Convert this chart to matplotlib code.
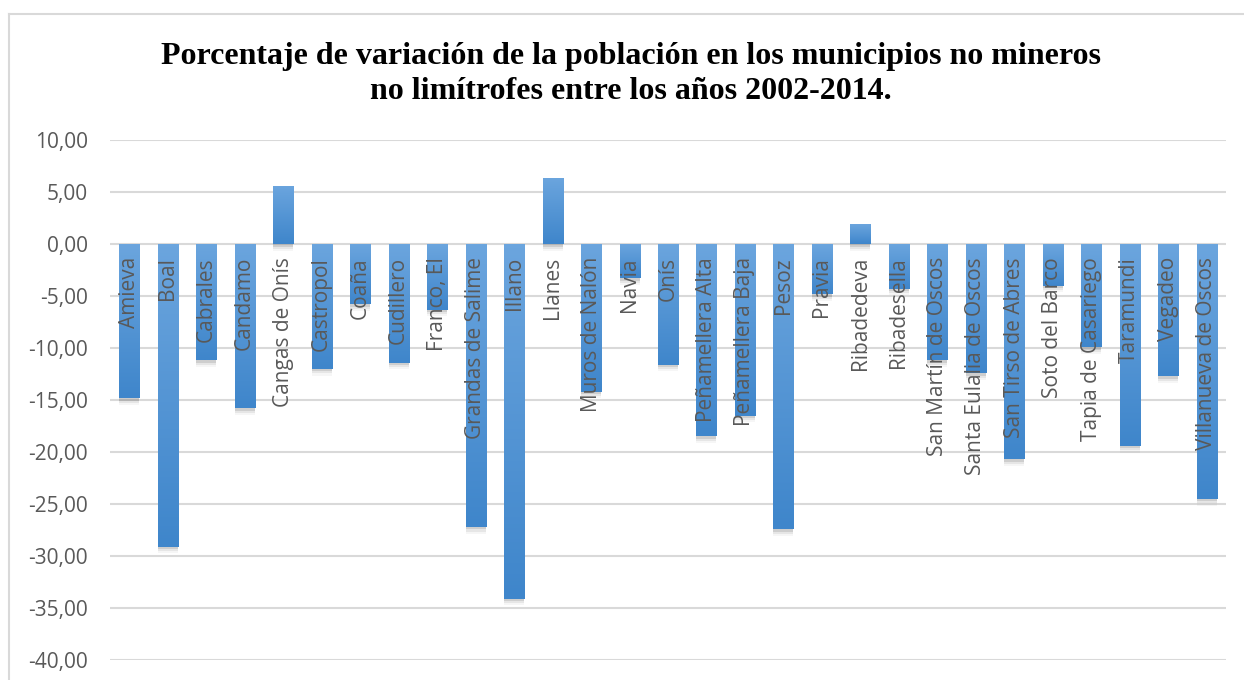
import numpy as np
import matplotlib
matplotlib.use("Agg")
from matplotlib import pyplot as plt
from matplotlib.colors import LinearSegmentedColormap
from matplotlib.lines import Line2D

municipios = ["Amieva", "Boal", "Cabrales", "Candamo", "Cangas de Onís",
              "Castropol", "Coaña", "Cudillero", "Franco, El",
              "Grandas de Salime", "Illano", "Llanes", "Muros de Nalón",
              "Navia", "Onís", "Peñamellera Alta", "Peñamellera Baja",
              "Pesoz", "Pravia", "Ribadedeva", "Ribadesella",
              "San Martín de Oscos", "Santa Eulalia de Oscos",
              "San Tirso de Abres", "Soto del Barco", "Tapia de Casariego",
              "Taramundi", "Vegadeo", "Villanueva de Oscos"]
variacion = [-14.8, -29.1, -11.2, -15.8, 5.6,
             -12.0, -5.8, -11.4, -6.3,
             -27.2, -34.1, 6.35, -14.2,
             -3.3, -11.6, -18.5, -16.5,
             -27.4, -4.8, 1.9, -4.3,
             -11.2, -12.4,
             -20.7, -4.0, -9.9,
             -19.4, -12.7, -24.5]
yticks = [10, 5, 0, -5, -10, -15, -20, -25, -30, -35, -40]

titulo = ("Porcentaje de variación de la población en los municipios no mineros\n"
          "no limítrofes entre los años 2002-2014.")

gris = "#595959"
W, H = 1244, 680
fig = plt.figure(figsize=(W / 100, H / 100), dpi=100)
ax = fig.add_axes([110 / W, (H - 660) / H, (1226 - 110) / W, (660 - 140) / H])

x = np.arange(len(municipios))
ancho = 0.52

# sombra suave
for off, a in [(0.25, 0.18), (0.45, 0.10), (0.65, 0.05)]:
    ax.bar(x, variacion, width=ancho, bottom=-off, color="#606060", alpha=a,
           zorder=2, linewidth=0)
barras = ax.bar(x, variacion, width=ancho, color="#4a8fd2", zorder=3, linewidth=0)

# degradado en cada barra
cmap = LinearSegmentedColormap.from_list("azul", ["#6ba5de", "#3f86cb"])
grad = np.linspace(0, 1, 100).reshape(-1, 1)
for b in barras:
    x0 = b.get_x()
    y0 = b.get_y()
    h = b.get_height()
    lo, hi = min(y0, y0 + h), max(y0, y0 + h)
    im = ax.imshow(grad, cmap=cmap, aspect="auto", origin="upper",
                   extent=[x0, x0 + b.get_width(), lo, hi], zorder=4)
    im.set_clip_path(b)

for i, nombre in enumerate(municipios):
    ax.text(i, -1.25, nombre, rotation=90, ha="center", va="top",
            color=gris, fontsize=15, family="Open Sans", zorder=5)

ax.set_xlim(-0.5, len(municipios) - 0.5)
ax.set_ylim(-40, 10)
ax.set_yticks(yticks)
ax.set_yticklabels([f"{v:.2f}".replace(".", ",") for v in yticks],
                   color=gris, fontsize=15, family="Open Sans")
ax.tick_params(axis="y", length=0, pad=16)
ax.set_xticks([])
ax.grid(axis="y", color="#d9d9d9", linewidth=1.5, zorder=0)
ax.set_axisbelow(True)
for s in ax.spines.values():
    s.set_visible(False)

fig.text(631 / W, 1 - 74 / H, titulo, ha="center", va="center",
         fontsize=23, fontweight="bold", family="Liberation Serif",
         linespacing=1.25)

# marco del grafico
fig.add_artist(Line2D([8.5 / W, 8.5 / W], [0, 1 - 13.5 / H], color="#d9d9d9", lw=1.5))
fig.add_artist(Line2D([8.5 / W, 1], [1 - 13.5 / H, 1 - 13.5 / H], color="#d9d9d9", lw=1.5))

fig.savefig("out.png", dpi=100)
